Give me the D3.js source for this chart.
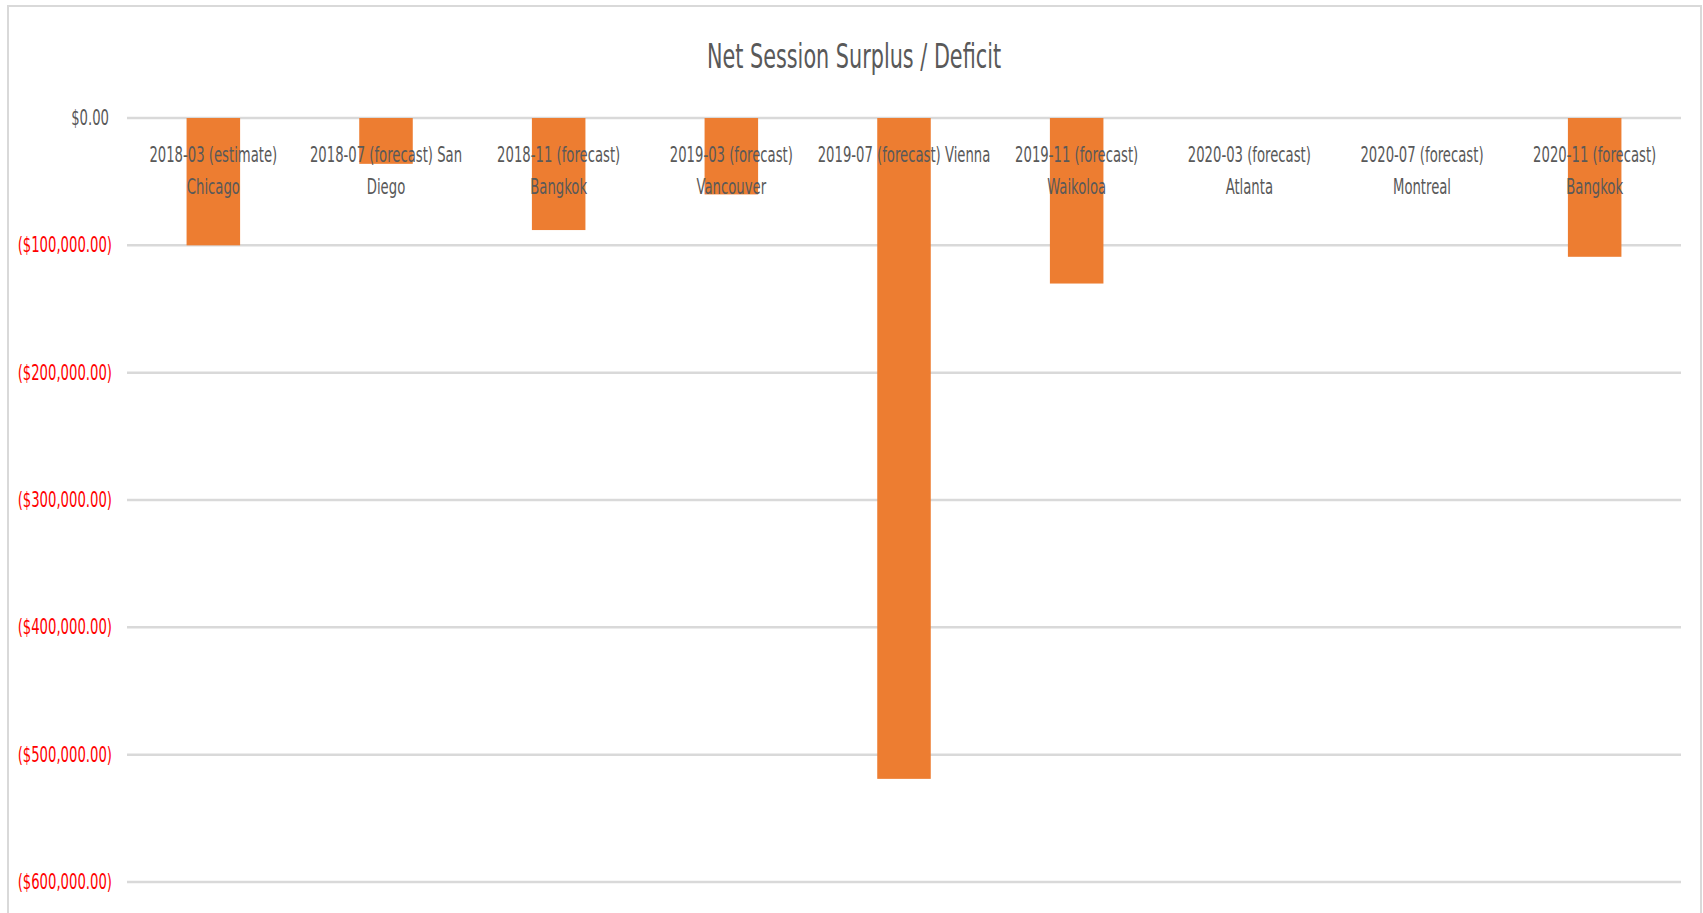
<!DOCTYPE html>
<html>
<head>
<meta charset="utf-8">
<script src="https://cdn.jsdelivr.net/npm/d3@7"></script>
<style>
body { margin: 0; background: #fff; }
text { font-family: "Liberation Sans Narrow", "DejaVu Sans Condensed", sans-serif; }
</style>
</head>
<body>
<script>
// category labels, already split the way the chart wraps them
var categories = [
	["2018-03 (estimate)", "Chicago"],
	["2018-07 (forecast) San", "Diego"],
	["2018-11 (forecast)", "Bangkok"],
	["2019-03 (forecast)", "Vancouver"],
	["2019-07 (forecast) Vienna"],
	["2019-11 (forecast)", "Waikoloa"],
	["2020-03 (forecast)", "Atlanta"],
	["2020-07 (forecast)", "Montreal"],
	["2020-11 (forecast)", "Bangkok"]
];
var surplus = [-100000, -36000, -88000, -60000, -519000, -130000, 0, 0, -109000];
var yTicks = [0, -100000, -200000, -300000, -400000, -500000, -600000];
var title = "Net Session Surplus / Deficit";

var W = 1703, H = 913;
var keys = categories.map(function(c, i) { return i; });

var svg = d3.select("body").append("svg")
	.attr("width", W)
	.attr("height", H);

// chart frame
svg.append("rect")
	.attr("x", 8).attr("y", 6)
	.attr("width", 1693).attr("height", 920)
	.style("fill", "none")
	.style("stroke", "#d9d9d9")
	.style("stroke-width", 2);

var x = d3.scaleBand().domain(keys).range([127, 1681]);
var y = d3.scaleLinear().domain([-600000, 0]).range([882, 118]);

var money = d3.format("$,.2f");
function fmt(v) { return v < 0 ? "(" + money(-v) + ")" : money(v); }

// gridlines
svg.append("g").selectAll("line")
	.data(yTicks).enter()
	.append("line")
	.attr("x1", x.range()[0])
	.attr("x2", x.range()[1])
	.attr("y1", function(d) { return y(d); })
	.attr("y2", function(d) { return y(d); })
	.style("stroke", "#d9d9d9")
	.style("stroke-width", 2.5);

// y tick labels, negatives in red like the excel format
svg.append("g").selectAll("text")
	.data(yTicks).enter()
	.append("text")
	.attr("transform", function(d) {
		var xx = d < 0 ? 112 : 109;
		return "translate(" + xx + "," + (y(d) + 7) + ") scale(0.7,1)";
	})
	.attr("text-anchor", "end")
	.style("font-size", "21px")
	.style("fill", function(d) { return d < 0 ? "#ff0000" : "#595959"; })
	.text(fmt);

// bars
var bw = x.bandwidth() * 0.31;
svg.append("g").selectAll("rect")
	.data(surplus).enter()
	.append("rect")
	.attr("x", function(d, i) { return x(i) + x.bandwidth() / 2 - bw / 2; })
	.attr("width", bw)
	.attr("y", function(d) { return y(Math.max(0, d)); })
	.attr("height", function(d) { return Math.abs(y(d) - y(0)); })
	.style("fill", "#ed7d31");

// category labels sit on top of the bars
var lab = svg.append("g").selectAll("g")
	.data(categories).enter()
	.append("g")
	.attr("transform", function(d, i) { return "translate(" + (x(i) + x.bandwidth() / 2) + ",0)"; });

lab.selectAll("text")
	.data(function(d) { return d; }).enter()
	.append("text")
	.attr("transform", function(d, j) { return "translate(0," + (162 + j * 32) + ") scale(0.7,1)"; })
	.attr("text-anchor", "middle")
	.style("font-size", "21px")
	.style("fill", "#595959")
	.text(function(d) { return d; });

// title
svg.append("text")
	.attr("transform", "translate(854,68) scale(0.7,1)")
	.attr("text-anchor", "middle")
	.style("font-size", "33px")
	.style("fill", "#595959")
	.text(title);
</script>
</body>
</html>
